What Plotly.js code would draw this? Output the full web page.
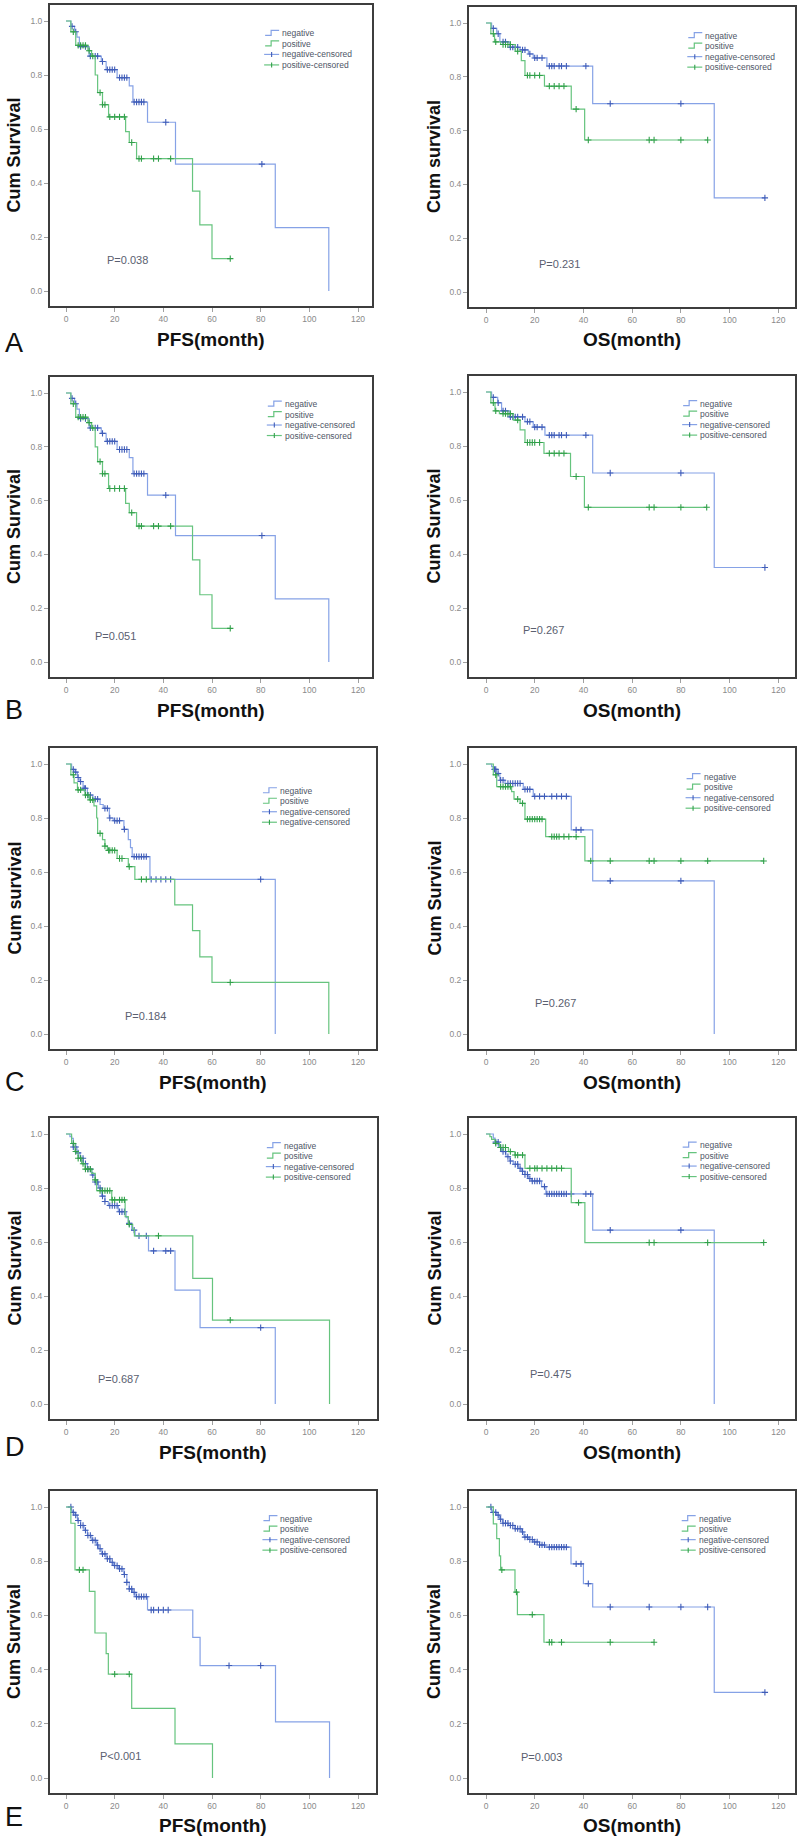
<!DOCTYPE html>
<html>
<head>
<meta charset="utf-8">
<script src="https://cdn.plot.ly/plotly-3.0.1.min.js"></script>
<style>body{margin:0;background:#fff}</style>
</head>
<body>
<div id="chart" style="width:800px;height:1840px"></div>
<script>
// ---- data: step times (months), survival, censor times ----
// A  PFS
var aPfsNegT = [0, 2, 3.5, 4.5, 5.5, 9.5, 14.5, 16.5, 21, 26, 27.5, 33.5, 45, 86, 108];
var aPfsNegS = [1, 0.98, 0.96, 0.94, 0.905, 0.87, 0.85, 0.82, 0.79, 0.76, 0.70, 0.625, 0.47, 0.235, 0];
var aPfsNegC = [2.5, 4, 6, 8, 10, 12, 13, 15, 17, 18, 19, 20, 22, 23, 24, 25, 28, 29, 30, 31, 32, 41, 80.5];
var aPfsPosT = [0, 2, 4, 9, 10.5, 12, 13, 15, 17.5, 24.5, 26, 29, 52, 55, 60];
var aPfsPosS = [1, 0.96, 0.91, 0.89, 0.87, 0.80, 0.735, 0.69, 0.645, 0.59, 0.55, 0.49, 0.37, 0.245, 0.12];
var aPfsPosC = [3, 5, 6, 7, 8, 9.5, 11, 14, 15, 16, 18, 20, 22, 24, 27, 30, 31, 36, 38, 43, 67.5];
// A  OS
var aOsNegT = [0, 2.3, 4.4, 5.7, 9.8, 14, 17.4, 19.4, 25, 43.8, 93.7];
var aOsNegS = [1, 0.98, 0.96, 0.93, 0.91, 0.90, 0.885, 0.87, 0.84, 0.70, 0.35];
var aOsNegC = [3, 5, 7, 8, 10, 11, 12, 13, 15, 16, 18, 20, 21, 23, 26, 27, 28, 30, 31, 33, 41, 51, 80, 114.5];
var aOsPosT = [0, 2, 3.5, 6, 12, 14.5, 16, 24, 35, 40.5];
var aOsPosS = [1, 0.96, 0.93, 0.92, 0.895, 0.86, 0.805, 0.765, 0.68, 0.565];
var aOsPosC = [3, 4, 7, 8, 9, 10, 13, 17, 18, 20, 22, 26, 28, 30, 32, 37, 42, 67, 69, 80, 91];
// B  PFS
var bPfsNegT = [0, 2, 3.5, 4.5, 5.5, 9.5, 14.5, 16.5, 21, 26, 27.5, 33.5, 45, 86, 108];
var bPfsNegS = [1, 0.98, 0.96, 0.94, 0.905, 0.87, 0.85, 0.82, 0.79, 0.76, 0.70, 0.62, 0.47, 0.235, 0];
var bPfsNegC = [2.5, 4, 6, 8, 10, 12, 13, 15, 17, 18, 19, 20, 22, 23, 24, 25, 28, 29, 30, 31, 32, 41, 80.5];
var bPfsPosT = [0, 2, 4, 9, 10.5, 12, 13, 15, 17.5, 24.5, 26, 29, 52, 55, 60];
var bPfsPosS = [1, 0.96, 0.91, 0.89, 0.87, 0.80, 0.745, 0.70, 0.645, 0.59, 0.555, 0.505, 0.38, 0.25, 0.125];
var bPfsPosC = [3, 5, 6, 7, 8, 9.5, 11, 14, 15, 16, 18, 20, 22, 24, 27, 30, 31, 36, 38, 43, 67.5];
// B  OS
var bOsNegT = [0, 2.3, 4.8, 6.4, 9.8, 16, 19.4, 24.2, 43.8, 93.7];
var bOsNegS = [1, 0.98, 0.96, 0.93, 0.908, 0.89, 0.87, 0.84, 0.70, 0.35];
var bOsNegC = [3, 5, 7, 8, 10, 11, 12, 13, 15, 17, 18, 20, 21, 23, 26, 27, 28, 30, 31, 33, 41, 51, 80, 114.5];
var bOsPosT = [0, 2, 3.7, 5.5, 11.2, 14, 16, 23.8, 34.7, 40.4];
var bOsPosS = [1, 0.96, 0.93, 0.92, 0.896, 0.86, 0.813, 0.773, 0.687, 0.573];
var bOsPosC = [3, 4, 7, 8, 9, 10, 13, 17, 18, 19, 20, 22, 26, 28, 30, 32, 37, 42, 67, 69, 80, 90.6];
// C  PFS
var cPfsNegT = [0, 2.3, 3.3, 4.7, 5.7, 7, 8.8, 11, 14, 15.3, 17.8, 19.4, 23.8, 25.6, 26.5, 27.2, 34.5, 86];
var cPfsNegS = [1, 0.98, 0.97, 0.95, 0.935, 0.91, 0.885, 0.87, 0.85, 0.836, 0.80, 0.79, 0.758, 0.72, 0.69, 0.657, 0.573, 0];
var cPfsNegC = [3, 4, 5, 6, 7.5, 8, 9, 10, 12, 13, 16, 17, 18, 20, 21, 22, 24, 28, 29, 30, 31, 32, 33, 35, 37, 39, 41, 43, 80];
var cPfsPosT = [0, 2, 3.3, 4.7, 7.8, 9.6, 11.5, 12.6, 13, 15, 16, 17, 21, 25.6, 28.3, 44.7, 52, 55, 60, 108];
var cPfsPosS = [1, 0.96, 0.93, 0.904, 0.885, 0.867, 0.845, 0.80, 0.743, 0.72, 0.696, 0.68, 0.65, 0.62, 0.573, 0.478, 0.383, 0.286, 0.191, 0];
var cPfsPosC = [3, 5, 6, 8, 9, 10, 11, 14, 16, 17.5, 18, 19, 20, 22, 23, 26, 31, 33, 67.5];
// C  OS
var cOsNegT = [0, 2.3, 3, 4.4, 5.7, 7.8, 15.3, 19.4, 35, 43.8, 93.7];
var cOsNegS = [1, 0.99, 0.98, 0.965, 0.94, 0.928, 0.906, 0.88, 0.756, 0.567, 0];
var cOsNegC = [3.5, 4, 5, 6, 7, 9, 10, 11, 12, 13, 14, 16, 17, 18, 20, 22, 24, 27, 29, 31, 33, 37, 39, 51, 80];
var cOsPosT = [0, 3, 4.4, 10.5, 11.5, 14, 16, 24.5, 40.6];
var cOsPosS = [1, 0.96, 0.916, 0.898, 0.87, 0.854, 0.796, 0.731, 0.641];
var cOsPosC = [4, 6, 7, 8, 9, 10, 13, 15, 17, 18, 19, 20, 21, 22, 23, 27, 28, 29, 30, 32, 34, 37, 43, 51, 67, 69, 80, 91, 114];
// D  PFS
var dPfsNegT = [0, 1.6, 2.3, 3, 4.5, 5.8, 7.1, 8.8, 10.6, 12, 13.3, 14.7, 16, 17.4, 21.5, 24.7, 25.6, 27, 28.4, 33.9, 44.8, 55.1, 86];
var dPfsNegS = [1, 0.99, 0.984, 0.952, 0.93, 0.91, 0.89, 0.87, 0.848, 0.822, 0.80, 0.77, 0.75, 0.735, 0.712, 0.69, 0.669, 0.644, 0.623, 0.567, 0.422, 0.283, 0];
var dPfsNegC = [3, 4, 5, 6, 7, 8, 9, 10, 11, 12, 13, 14, 15, 16, 18, 19, 20, 21, 22, 23, 24, 26, 28, 30, 33, 36, 41, 43, 80];
var dPfsPosT = [0, 2.3, 3.7, 5, 6.4, 7.8, 10.6, 12, 12.6, 18.8, 24.3, 25.6, 27.4, 28.1, 52.1, 60.2, 108.3];
var dPfsPosS = [1, 0.965, 0.935, 0.91, 0.89, 0.87, 0.854, 0.83, 0.79, 0.756, 0.694, 0.665, 0.648, 0.623, 0.465, 0.311, 0];
var dPfsPosC = [3, 4, 5, 6, 7, 8, 9, 10, 12, 14, 15, 16, 17, 18, 19, 20, 22, 23, 24, 26, 38, 67.5];
// D  OS
var dOsNegT = [0, 3, 3.7, 5.1, 6.4, 8.2, 9.8, 11.2, 13.3, 14.6, 16, 17.4, 18.7, 22.8, 24.6, 43.8, 93.7];
var dOsNegS = [1, 0.985, 0.97, 0.95, 0.935, 0.916, 0.90, 0.888, 0.873, 0.862, 0.85, 0.835, 0.826, 0.805, 0.778, 0.644, 0];
var dOsNegC = [4, 5, 6, 7, 8, 9, 10, 12, 13, 14, 15, 16, 17, 18, 19, 20, 21, 22, 24, 25, 26, 27, 28, 29, 30, 31, 32, 33, 35, 41, 43, 51, 80];
var dOsPosT = [0, 1.6, 2.3, 3.7, 5.5, 9.2, 11.9, 16, 35, 40.6];
var dOsPosS = [1, 0.99, 0.98, 0.965, 0.95, 0.935, 0.922, 0.873, 0.746, 0.598];
var dOsPosC = [4, 6, 7, 8, 10, 12, 13, 15, 18, 20, 21, 23, 25, 27, 29, 31, 38, 67, 69, 91, 114];
// E  PFS
var ePfsNegT = [0, 2.3, 2.8, 3.7, 4.7, 6, 7.4, 8.8, 10.6, 12.6, 13.3, 14.7, 16.5, 18.1, 19.5, 21.5, 23.8, 25, 26, 27.4, 28.4, 33.5, 52.1, 55.1, 86.1, 108.3];
var ePfsNegS = [1, 0.985, 0.98, 0.97, 0.95, 0.932, 0.914, 0.895, 0.877, 0.86, 0.846, 0.827, 0.809, 0.796, 0.784, 0.772, 0.751, 0.722, 0.698, 0.685, 0.669, 0.62, 0.519, 0.415, 0.207, 0];
var ePfsNegC = [2, 3, 4, 5, 6, 7, 8, 9, 10, 11, 12, 13, 14, 15, 16, 17, 18, 19, 20, 21, 22, 23, 24, 25, 26, 27, 28, 29, 30, 31, 32, 33, 35, 36, 38, 40, 42, 67, 80];
var ePfsPosT = [0, 2, 3.7, 9.6, 11.9, 16.5, 17.4, 27, 44.8, 60.2];
var ePfsPosS = [1, 0.94, 0.768, 0.689, 0.535, 0.459, 0.383, 0.257, 0.126, 0];
var ePfsPosC = [5.5, 7, 20, 26];
// E  OS
var eOsNegT = [0, 2.3, 3, 4.4, 5.5, 6.8, 9.2, 11.9, 14.6, 15.6, 17.4, 19.4, 22, 24.2, 34.9, 40, 43.8, 93.7];
var eOsNegS = [1, 0.985, 0.98, 0.97, 0.955, 0.94, 0.932, 0.92, 0.908, 0.889, 0.88, 0.871, 0.86, 0.852, 0.79, 0.717, 0.631, 0.316];
var eOsNegC = [2, 3, 4, 5, 6, 7, 8, 9, 10, 11, 12, 13, 14, 15, 16, 17, 18, 19, 20, 21, 22, 23, 24, 26, 27, 28, 29, 30, 31, 32, 33, 37, 39, 42, 51, 67, 80, 91, 114.5];
var eOsPosT = [0, 3, 4.4, 5.5, 6, 11.9, 12.9, 23.8];
var eOsPosS = [1, 0.938, 0.883, 0.82, 0.768, 0.686, 0.603, 0.501];
var eOsPosC = [6.5, 12.5, 19, 26, 27, 31, 51, 69];

var pValues = ["P=0.038", "P=0.231", "P=0.051", "P=0.267", "P=0.184", "P=0.267", "P=0.687", "P=0.475", "P<0.001", "P=0.003"];
var yTitles = ["Cum Survival", "Cum survival", "Cum Survival", "Cum Survival", "Cum survival",
               "Cum Survival", "Cum Survival", "Cum Survival", "Cum Survival", "Cum Survival"];
var xTitles = ["PFS(month)", "OS(month)"];
var rowLetters = ["A", "B", "C", "D", "E"];
var legendStd = ["negative", "positive", "negative-censored", "positive-censored"];
var legendC = ["negative", "positive", "negative-censored", "negative-censored"];
var xTicks = [0, 20, 40, 60, 80, 100, 120];
var yTicks = [0, 0.2, 0.4, 0.6, 0.8, 1.0];

var series = [
  [aPfsNegT, aPfsNegS, aPfsNegC, aPfsPosT, aPfsPosS, aPfsPosC],
  [aOsNegT, aOsNegS, aOsNegC, aOsPosT, aOsPosS, aOsPosC],
  [bPfsNegT, bPfsNegS, bPfsNegC, bPfsPosT, bPfsPosS, bPfsPosC],
  [bOsNegT, bOsNegS, bOsNegC, bOsPosT, bOsPosS, bOsPosC],
  [cPfsNegT, cPfsNegS, cPfsNegC, cPfsPosT, cPfsPosS, cPfsPosC],
  [cOsNegT, cOsNegS, cOsNegC, cOsPosT, cOsPosS, cOsPosC],
  [dPfsNegT, dPfsNegS, dPfsNegC, dPfsPosT, dPfsPosS, dPfsPosC],
  [dOsNegT, dOsNegS, dOsNegC, dOsPosT, dOsPosS, dOsPosC],
  [ePfsNegT, ePfsNegS, ePfsNegC, ePfsPosT, ePfsPosS, ePfsPosC],
  [eOsNegT, eOsNegS, eOsNegC, eOsPosT, eOsPosS, eOsPosC]
];

// ---- layout geometry (px): frame left, right, top, bottom ----
var frames = [
  [50, 372, 5, 306], [469, 795, 7, 307],
  [50, 372, 377, 677], [469, 795, 376, 677],
  [50, 376, 748, 1049], [469, 795, 748, 1049],
  [50, 377, 1118, 1419], [469, 795, 1118, 1419],
  [50, 376, 1491, 1793], [469, 795, 1491, 1793]
];
// legend anchor (months, survival of first row) and P-value anchor
var legPos = [[88, 0.954], [89.2, 0.953], [89.1, 0.959], [87.1, 0.957], [87.1, 0.901],
              [88.5, 0.953], [88.7, 0.957], [86.9, 0.959], [87.3, 0.957], [86.5, 0.957]];
var pPos = [[16, 0.115], [20.8, 0.105], [11.2, 0.096], [14.2, 0.117], [23.3, 0.067],
            [19.2, 0.116], [12.2, 0.093], [17.4, 0.111], [13, 0.08], [13.7, 0.079]];
var letterY = [343, 710, 1082, 1447, 1817];
var titleY = [340, 710, 1082, 1452, 1825];

var W = 800, H = 1840;
var FONT = 'Arial, "Liberation Sans", sans-serif';
var negLine = '#86a2e6', negMark = '#3f5cb8';
var posLine = '#66c47e', posMark = '#31a04a';

function stepAt(T, S, t) {
  var s = S[0];
  for (var i = 0; i < T.length; i++) { if (T[i] <= t) s = S[i]; }
  return s;
}

function curve(T, S, C) {
  var x = T.slice(), y = S.slice();
  var tEnd = Math.max(T[T.length - 1], Math.max.apply(null, C));
  if (tEnd > T[T.length - 1]) { x.push(tEnd); y.push(S[S.length - 1]); }
  return {x: x, y: y};
}

var traces = [];
var layout = {
  width: W, height: H,
  margin: {l: 0, r: 0, t: 0, b: 0},
  paper_bgcolor: '#fff', plot_bgcolor: '#fff',
  showlegend: false,
  font: {family: FONT},
  annotations: [], shapes: []
};

series.forEach(function (d, i) {
  var n = i === 0 ? '' : String(i + 1);
  var xa = 'x' + n, ya = 'y' + n;
  var f = frames[i];
  var left = i % 2 === 0;
  var x0 = left ? 66 : 486, pxm = left ? 292 / 120 : 292.3 / 120;
  var h = f[3] - f[2], pys = h - 31;

  layout['xaxis' + n] = {
    domain: [f[0] / W, f[1] / W], anchor: ya,
    range: [(f[0] - x0) / pxm, (f[1] - x0) / pxm],
    tickvals: xTicks, ticks: 'outside', ticklen: 4, tickwidth: 1, tickcolor: '#a0a0a0',
    tickfont: {size: 8.5, color: '#8a8a8a', family: FONT},
    showline: true, mirror: true, linecolor: '#3d3d3d', linewidth: 2,
    showgrid: false, zeroline: false, fixedrange: true
  };
  layout['yaxis' + n] = {
    domain: [1 - f[3] / H, 1 - f[2] / H], anchor: xa,
    range: [-15 / pys, 1 + 16 / pys],
    tickvals: yTicks, tickformat: '.1f', ticks: 'outside', ticklen: 4, tickwidth: 1, tickcolor: '#a0a0a0',
    tickfont: {size: 8.5, color: '#8a8a8a', family: FONT},
    showline: true, mirror: true, linecolor: '#3d3d3d', linewidth: 2,
    showgrid: false, zeroline: false, fixedrange: true
  };

  var groups = [[d[0], d[1], d[2], negLine, negMark], [d[3], d[4], d[5], posLine, posMark]];
  groups.forEach(function (g) {
    var c = curve(g[0], g[1], g[2]);
    traces.push({x: c.x, y: c.y, xaxis: xa, yaxis: ya, mode: 'lines',
      line: {shape: 'hv', color: g[3], width: 1.2}, hoverinfo: 'skip'});
    traces.push({x: g[2], y: g[2].map(function (t) { return stepAt(g[0], g[1], t); }),
      xaxis: xa, yaxis: ya, mode: 'markers', hoverinfo: 'skip',
      marker: {symbol: 'cross-thin-open', size: 4.5, color: g[4], line: {width: 1.1, color: g[4]}}});
  });

  // legend (text + small symbols)
  var labels = i === 4 ? legendC : legendStd;
  var lx = legPos[i][0], ly = legPos[i][1];
  var dx = 1 / pxm, dy = 1 / pys, rowH = 10.5 * dy;
  labels.forEach(function (lab, k) {
    var yc = ly - k * rowH;
    layout.annotations.push({xref: xa, yref: ya, x: lx, y: yc, xanchor: 'left', yanchor: 'middle',
      text: lab, showarrow: false, font: {size: 8.5, color: '#4e5566', family: FONT}});
    var col = (k % 2 === 0) ? negLine : posLine;
    var mcol = (k % 2 === 0) ? negMark : posMark;
    if (k < 2) {
      layout.shapes.push({type: 'path', xref: xa, yref: ya, line: {color: col, width: 1.2},
        path: 'M' + (lx - 15 * dx) + ',' + (yc - 2 * dy) + ' H' + (lx - 9 * dx) +
              ' V' + (yc + 3 * dy) + ' H' + (lx - 1 * dx)});
    } else {
      layout.shapes.push({type: 'line', xref: xa, yref: ya, line: {color: col, width: 1.2},
        x0: lx - 16 * dx, x1: lx - 1 * dx, y0: yc, y1: yc});
      layout.shapes.push({type: 'line', xref: xa, yref: ya, line: {color: mcol, width: 1.1},
        x0: lx - 8.5 * dx, x1: lx - 8.5 * dx, y0: yc - 2.5 * dy, y1: yc + 2.5 * dy});
    }
  });

  // P value
  layout.annotations.push({xref: xa, yref: ya, x: pPos[i][0], y: pPos[i][1], xanchor: 'left', yanchor: 'middle',
    text: pValues[i], showarrow: false, font: {size: 11, color: '#5a6070', family: FONT}});

  // axis titles
  var row = Math.floor(i / 2);
  layout.annotations.push({xref: 'paper', yref: 'paper', x: (left ? 14 : 434) / W, y: 1 - (f[2] + f[3]) / 2 / H,
    xanchor: 'center', yanchor: 'middle', textangle: -90, showarrow: false,
    text: '<b>' + yTitles[i] + '</b>', font: {size: 18, color: '#111', family: FONT}});
  layout.annotations.push({xref: 'paper', yref: 'paper', x: (f[0] + f[1]) / 2 / W, y: 1 - titleY[row] / H,
    xanchor: 'center', yanchor: 'middle', showarrow: false,
    text: '<b>' + xTitles[i % 2] + '</b>', font: {size: 19, color: '#111', family: FONT}});
});

rowLetters.forEach(function (L, r) {
  layout.annotations.push({xref: 'paper', yref: 'paper', x: 3 / W, y: 1 - letterY[r] / H,
    xanchor: 'left', yanchor: 'middle', showarrow: false,
    text: L, font: {size: 27, color: '#111', family: FONT}});
});

Plotly.newPlot('chart', traces, layout, {staticPlot: true, displayModeBar: false});
</script>
</body>
</html>
